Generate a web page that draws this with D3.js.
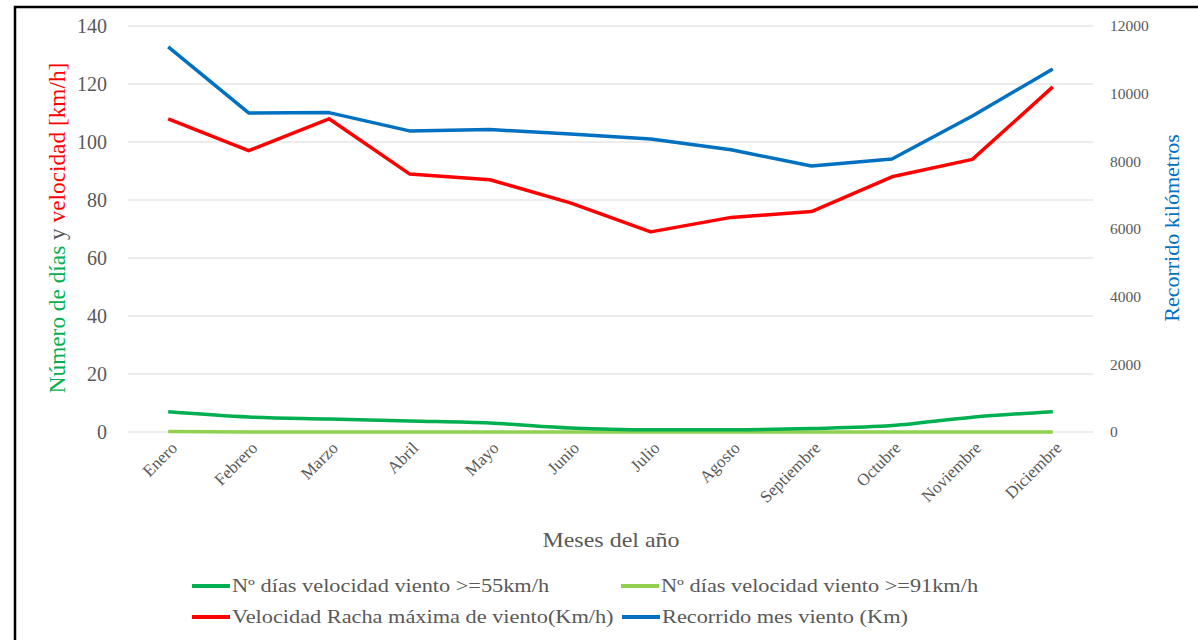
<!DOCTYPE html>
<html><head><meta charset="utf-8">
<script src="https://cdn.jsdelivr.net/npm/d3@7"></script>
<style>
html,body{margin:0;padding:0;background:#fff;overflow:hidden}
svg text{font-family:"Liberation Serif","DejaVu Serif",serif !important}
</style></head>
<body><svg id="c" width="1198" height="640"></svg>
<script>
const months = ["Enero","Febrero","Marzo","Abril","Mayo","Junio","Julio","Agosto","Septiembre","Octubre","Noviembre","Diciembre"];
const dias55 = [7, 5.2, 4.5, 3.8, 3.1, 1.4, 0.8, 0.8, 1.2, 2.2, 5.1, 7];
const dias91 = [0.2, 0, 0, 0, 0, 0, 0, 0, 0, 0, 0, 0];
const racha = [108, 97, 108, 89, 87, 79, 69, 74, 76, 88, 94, 119];
const recorrido = [11380, 9430, 9440, 8900, 8940, 8810, 8660, 8340, 7860, 8070, 9340, 10730];
const leftTicks = [0,20,40,60,80,100,120,140];
const rightTicks = [0,2000,4000,6000,8000,10000,12000];
const legendLabels = ["Nº días velocidad viento >=55km/h","Nº días velocidad viento >=91km/h","Velocidad Racha máxima de viento(Km/h)","Recorrido mes viento (Km)"];
const colors = ["#00B050","#92D050","#FF0000","#0070C0"];

const svg = d3.select("#c");
svg.append("rect").attr("x",15).attr("y",7).attr("width",1200).attr("height",640)
  .attr("fill","#fff").attr("stroke","#000").attr("stroke-width",2.5);

const x = d3.scaleBand().domain(months).range([128,1093]);
const yL = d3.scaleLinear().domain([0,140]).range([432,26]);
const yR = d3.scaleLinear().domain([0,12000]).range([432,26]);
const cx = m => x(m) + x.bandwidth()/2;

// gridlines
svg.append("g").selectAll("line").data(leftTicks).join("line")
  .attr("x1",128).attr("x2",1093).attr("y1",d=>yL(d)).attr("y2",d=>yL(d))
  .attr("stroke","#d9d9d9").attr("stroke-width",1.2);

// left axis
const gl = svg.append("g").attr("transform","translate(128,0)")
  .call(d3.axisLeft(yL).tickValues(leftTicks).tickSize(0).tickPadding(21));
gl.select(".domain").remove();
gl.selectAll("text").attr("font-size",20).attr("fill","#595959");

// right axis
const gr = svg.append("g").attr("transform","translate(1093,0)")
  .call(d3.axisRight(yR).tickValues(rightTicks).tickFormat(d3.format("d")).tickSize(0).tickPadding(17));
gr.select(".domain").remove();
gr.selectAll("text").attr("font-size",15.5).attr("fill","#595959");

// x axis labels
const gx = svg.append("g").attr("transform","translate(0,432)")
  .call(d3.axisBottom(x).tickSize(0).tickPadding(0));
gx.select(".domain").remove();
gx.selectAll("text").attr("font-size",17).attr("fill","#595959")
  .attr("text-anchor","end").attr("dy",0)
  .attr("transform","translate(10,17) rotate(-45)");

// lines
const lineL = d3.line().x((d,i)=>cx(months[i])).y(d=>yL(d));
const lineR = d3.line().x((d,i)=>cx(months[i])).y(d=>yR(d));
const lineS = d3.line().x((d,i)=>cx(months[i])).y(d=>yL(d)).curve(d3.curveMonotoneX);
svg.append("path").datum(dias91).attr("d",lineL).attr("fill","none").attr("stroke",colors[1]).attr("stroke-width",3.5);
svg.append("path").datum(dias55).attr("d",lineS).attr("fill","none").attr("stroke",colors[0]).attr("stroke-width",3.5);
svg.append("path").datum(racha).attr("d",lineL).attr("fill","none").attr("stroke",colors[2]).attr("stroke-width",3.5).attr("stroke-linejoin","round");
svg.append("path").datum(recorrido).attr("d",lineR).attr("fill","none").attr("stroke",colors[3]).attr("stroke-width",3.5).attr("stroke-linejoin","round");

// left title
const lt = svg.append("text").attr("transform","translate(65,228) rotate(-90)")
  .attr("text-anchor","middle").attr("font-size",23.3);
lt.append("tspan").attr("fill","#00B050").text("Número de días ");
lt.append("tspan").attr("fill","#595959").text("y ");
lt.append("tspan").attr("fill","#FF0000").text("velocidad [km/h]");

// right title
svg.append("text").attr("transform","translate(1179,228) rotate(-90)")
  .attr("text-anchor","middle").attr("font-size",22).attr("fill","#0070C0").text("Recorrido kilómetros");

// x title
svg.append("g").attr("transform","translate(611,547) scale(1.2,1)")
  .append("text").attr("text-anchor","middle").attr("font-size",20).attr("fill","#595959").text("Meses del año");

// legend
const legPos = [[192,586],[621,586],[192,617],[622,617]];
legendLabels.forEach((lab,i)=>{
  const g = svg.append("g").attr("transform",`translate(${legPos[i][0]},${legPos[i][1]})`);
  g.append("line").attr("x1",0).attr("x2",38).attr("y1",0).attr("y2",0).attr("stroke",colors[i]).attr("stroke-width",4);
  g.append("g").attr("transform","translate(40,0) scale(1.2,1)")
   .append("text").attr("x",0).attr("y",6).attr("font-size",18.6).attr("fill","#595959").text(lab);
});
</script></body></html>
